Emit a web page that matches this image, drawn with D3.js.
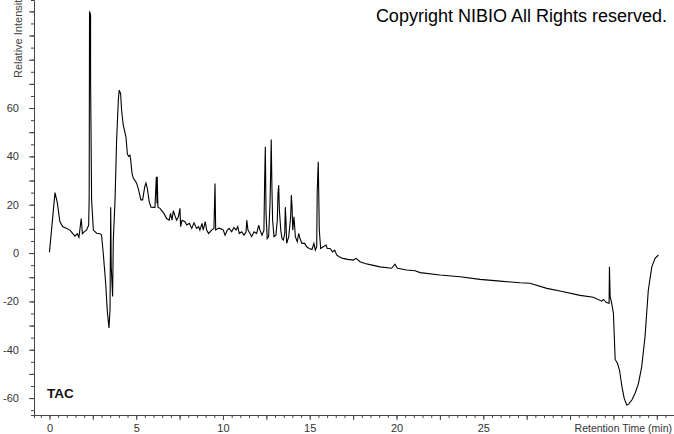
<!DOCTYPE html>
<html>
<head>
<meta charset="utf-8">
<script src="https://cdn.jsdelivr.net/npm/d3@7"></script>
<style>
  body { margin: 0; background: #fff; }
  svg { display: block; font-family: "Liberation Sans", Arial, sans-serif; }
</style>
</head>
<body>
<div id="chart"></div>
<script>
// retention time (min) and relative intensity
const retentionTime = [
  0, 0.32, 0.45, 0.6, 0.76, 1.18, 1.47, 1.6, 1.7, 1.83, 1.9, 2.0, 2.14, 2.26, 2.29, 2.31, 2.37, 2.37, 2.43, 2.53,
  2.72, 2.91, 3.0, 3.1, 3.24, 3.33, 3.43, 3.49, 3.53, 3.56, 3.64, 3.68, 3.78, 3.87, 3.97, 4.02, 4.1, 4.16, 4.25, 4.41,
  4.49, 4.56, 4.64, 4.68, 4.76, 4.83, 5.02, 5.14, 5.27, 5.37, 5.49, 5.56, 5.64, 5.75, 5.85, 6.08, 6.16, 6.2, 6.21, 6.25,
  6.37, 6.6, 6.75, 6.9, 6.98, 7.06, 7.14, 7.22, 7.33, 7.43, 7.52, 7.56, 7.64, 7.81, 7.91, 8.06, 8.2, 8.33, 8.48, 8.6,
  8.67, 8.79, 8.86, 8.98, 9.06, 9.17, 9.35, 9.48, 9.54, 9.58, 9.73, 9.83, 10.02, 10.12, 10.25, 10.36, 10.5, 10.63, 10.75, 10.85,
  10.94, 11.08, 11.21, 11.33, 11.37, 11.44, 11.56, 11.65, 11.79, 11.94, 12.06, 12.13, 12.25, 12.36, 12.4, 12.44, 12.48, 12.55, 12.63, 12.71,
  12.75, 12.78, 12.82, 12.86, 12.94, 13.05, 13.13, 13.17, 13.21, 13.25, 13.33, 13.4, 13.48, 13.56, 13.59, 13.63, 13.67, 13.79, 13.9, 13.94,
  13.98, 14.02, 14.09, 14.17, 14.28, 14.36, 14.44, 14.55, 14.71, 14.82, 14.97, 15.13, 15.24, 15.32, 15.4, 15.43, 15.49, 15.55, 15.63, 15.78,
  15.94, 16.01, 16.17, 16.32, 16.44, 16.55, 16.7, 16.9, 17.2, 17.51, 17.67, 17.9, 18.18, 18.6, 19.05, 19.72, 19.91, 20.05, 20.59, 21.07,
  21.36, 22.5, 23.66, 24.81, 25.97, 27.12, 27.69, 28.66, 29.42, 30.58, 31.34, 31.83, 31.92, 32.1, 32.25, 32.27, 32.31, 32.4, 32.5, 32.6,
  32.73, 32.85, 32.99, 33.12, 33.27, 33.38, 33.56, 33.75, 33.94, 34.13, 34.32, 34.51, 34.71, 34.9, 35.09
];
const intensity = [
  0.3, 25, 21, 13, 11, 9.5, 7, 8, 6.5, 14.3, 8, 8.8, 9.5, 11.6, 23, 100, 98.5, 71.6, 22, 9.5,
  8.2, 8, 7.5, 0, -12.5, -23.6, -31, -23.6, 19, -5.7, -18, 5.4, 22, 46.7, 63.3, 67.4, 66, 59, 53, 48,
  41, 40, 40.5, 38.5, 33, 31, 29, 26, 22, 22, 27.4, 29, 26.8, 21.2, 19, 18.9, 31.6, 20.5, 31.6, 19,
  18.5, 16.4, 14.3, 13.6, 16.4, 13.6, 17.5, 15.7, 13.6, 15, 18.5, 10.9, 13.6, 13, 11.6, 12.3, 10.2, 12.5, 10.2, 10.9,
  9.5, 12.3, 9.5, 13, 9.5, 8.1, 9.5, 10.2, 28.8, 9.5, 10.2, 10.2, 9.5, 7.4, 9.5, 10.2, 8.8, 10.6, 9.5, 10.9,
  8.1, 8.8, 7.4, 8.8, 13.6, 9.5, 8.1, 6.8, 8.8, 8.1, 11.6, 9.5, 7.4, 9.5, 29.5, 44, 16.4, 6, 6.8, 20.5,
  34, 47, 27.4, 13.6, 6.8, 7.4, 13.6, 24.7, 28, 17.8, 9.5, 6, 5.4, 8.1, 19, 13.6, 4, 6.8, 15, 24,
  19, 9.5, 15, 6.8, 4.7, 8.1, 6, 4, 4, 2.6, 1.9, 1.5, 4, 1.2, 2.6, 25.4, 37.8, 9.5, 1.9, 2.6,
  3.3, 1.9, 1.9, 0.5, 1.2, -0.8, -1.5, -2.2, -2.6, -2.9, -2.2, -3.6, -4.3, -5, -5.7, -6.3, -4.6, -6.3, -7, -7.3,
  -8.1, -9.1, -9.8, -10.9, -11.6, -12.3, -12.5, -14.6, -15.7, -17.5, -18.3, -19.9, -19.2, -20.5, -20.8, -5.7, -18, -20.8, -25, -44,
  -45.6, -48.4, -55.3, -60.1, -62.9, -62.5, -60.8, -58, -54, -47, -34.6, -15.3, -5.7, -2.2, -0.8
];
const xTickLabels = [0, 5, 10, 15, 20, 25];
const yTickLabels = [-60, -40, -20, 0, 20, 40, 60];

const width = 674, height = 434;
const data = retentionTime.map((t, i) => ({t: t, v: intensity[i]}));

const svg = d3.select("#chart")
  .append("svg")
    .attr("width", width)
    .attr("height", height);

let x = d3.scaleLinear()
    .domain([-0.89, 35.99])
    .range([34, 674]);

let y = d3.scaleLinear()
    .domain([-67, 104.7])
    .range([415, 0]);

const tickColor = "#444";

// x axis: minor ticks every 0.5, major every 2.5, labels every 5
svg.append("g")
    .attr("transform", "translate(0,415)")
    .call(d3.axisBottom(x).tickValues(d3.range(-0.5, 36, 0.5)).tickSize(3).tickFormat(""))
    .call(g => g.selectAll("line").attr("stroke", tickColor))
    .call(g => g.select(".domain").attr("stroke", tickColor));

svg.append("g")
    .attr("transform", "translate(0,415)")
    .call(d3.axisBottom(x).tickValues(d3.range(0, 36, 2.5)).tickSize(5).tickSizeOuter(0)
      .tickFormat(d => xTickLabels.includes(d) ? d : ""))
    .call(g => g.select(".domain").remove())
    .call(g => g.selectAll("line").attr("stroke", tickColor))
    .call(g => g.selectAll("text")
      .attr("font-family", "Liberation Sans, Arial, sans-serif")
      .attr("font-size", 11)
      .attr("fill", "#333")
      .attr("dy", "0.72em")
      .attr("y", 9));

// y axis: minor every 5, major every 10, labels every 20
svg.append("g")
    .attr("transform", "translate(34,0)")
    .call(d3.axisLeft(y).tickValues(d3.range(-65, 105, 5)).tickSize(3).tickFormat(""))
    .call(g => g.selectAll("line").attr("stroke", tickColor))
    .call(g => g.select(".domain").attr("stroke", tickColor));

svg.append("g")
    .attr("transform", "translate(34,0)")
    .call(d3.axisLeft(y).tickValues(d3.range(-60, 101, 10)).tickSize(5).tickSizeOuter(0)
      .tickFormat(d => yTickLabels.includes(d) ? d : ""))
    .call(g => g.select(".domain").remove())
    .call(g => g.selectAll("line").attr("stroke", tickColor))
    .call(g => g.selectAll("text")
      .attr("font-family", "Liberation Sans, Arial, sans-serif")
      .attr("font-size", 11)
      .attr("fill", "#333")
      .attr("x", -15));

// trace
svg.append("path")
    .datum(data)
    .attr("fill", "none")
    .attr("stroke", "#000")
    .attr("stroke-width", 1.1)
    .attr("d", d3.line().x(d => x(d.t)).y(d => y(d.v)));

// axis titles
svg.append("text")
    .attr("transform", "translate(22,78) rotate(-90)")
    .attr("font-size", 11)
    .attr("fill", "#444")
    .text("Relative Intensity");

svg.append("text")
    .attr("x", 672)
    .attr("y", 432)
    .attr("text-anchor", "end")
    .attr("font-size", 10.5)
    .attr("fill", "#333")
    .text("Retention Time (min)");

svg.append("text")
    .attr("x", 47)
    .attr("y", 398)
    .attr("font-size", 13.5)
    .attr("font-weight", "bold")
    .attr("fill", "#111")
    .text("TAC");

svg.append("text")
    .attr("x", 667)
    .attr("y", 22)
    .attr("text-anchor", "end")
    .attr("font-size", 18)
    .attr("fill", "#000")
    .text("Copyright NIBIO All Rights reserved.");
</script>
</body>
</html>
